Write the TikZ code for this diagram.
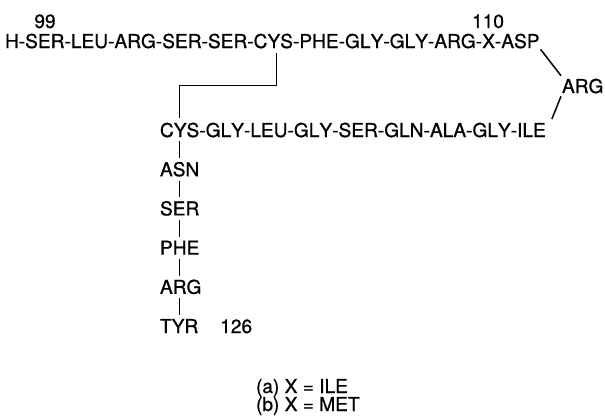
\documentclass[tikz,border=0pt]{standalone}
\usepackage{fontspec}
\setmainfont[Kerning=Off, FakeBold=0.8]{TeX Gyre Heros}
\usepackage{tikz}
\usetikzlibrary{positioning,calc}

\tikzset{
  res/.style={inner sep=0pt, outer sep=0pt, font=\fontsize{19.2}{18}\selectfont},
  bond/.style={line width=1.5bp, black}
}

\begin{document}
\begin{tikzpicture}[x=1bp, y=1bp]
\useasboundingbox (0,0) rectangle (605,418);
% upper chain
\node[res, anchor=base west] (top1) at (5,370) {H-SER-LEU-ARG-SER-SER-};
\node[res, anchor=base west] (cysA) at (top1.base east) {CYS};
\node[res, anchor=base west] (top2) at (cysA.base east) {-PHE-GLY-GLY-ARG-X-};
\node[res, anchor=base west] (asp) at (top2.base east) {ASP};
\node[res, anchor=base] (n99) at (45,390) {99};
\node[res, anchor=base] (n110) at (488,390) {110};
\node[res, anchor=base west] (argR) at (562,325) {ARG};
% lower chain
\node[res, anchor=base west] (cysB) at (160,281) {CYS};
\node[res, anchor=base west] (bot) at (cysB.base east) {-GLY-LEU-GLY-SER-GLN-ALA-GLY-};
\node[res, anchor=base west] (ile) at (bot.base east) {ILE};
\node[res, below=39.2bp of cysB.base west, anchor=base west] (asn) {ASN};
\node[res, below=39.2bp of asn.base west, anchor=base west] (ser) {SER};
\node[res, below=39.2bp of ser.base west, anchor=base west] (phe) {PHE};
\node[res, below=39.2bp of phe.base west, anchor=base west] (argC) {ARG};
\node[res, below=39.2bp of argC.base west, anchor=base west] (tyr) {TYR};
\node[res, right=22bp of tyr.base east, anchor=base west] (n126) {126};
% legend
\node[res, anchor=base west] (legA) at (256,25) {(a) X = ILE};
\node[res, below=18bp of legA.base west, anchor=base west] (legB) {(b) X = MET};
% bonds
\coordinate (ss) at ($(cysA.south)!.5!(cysB.north)$);
\draw[bond] ([xshift=3bp,yshift=-5bp]cysA.south) |- (ss) -| ([yshift=5bp]cysB.north);
\draw[bond] ([shift={(1bp,-1bp)}]asp.south east) -- ([shift={(-1bp,3bp)}]argR.north west);
\draw[bond] ([shift={(-1bp,-3bp)}]argR.south west) -- ([shift={(6bp,4bp)}]ile.north east);
\foreach \a/\b in {cysB/asn, asn/ser, ser/phe, phe/argC, argC/tyr}
  \draw[bond] ($(\a.south -| cysB.south)+(0,-4)$) -- ($(\b.north -| cysB.south)+(0,4)$);
\end{tikzpicture}
\end{document}
